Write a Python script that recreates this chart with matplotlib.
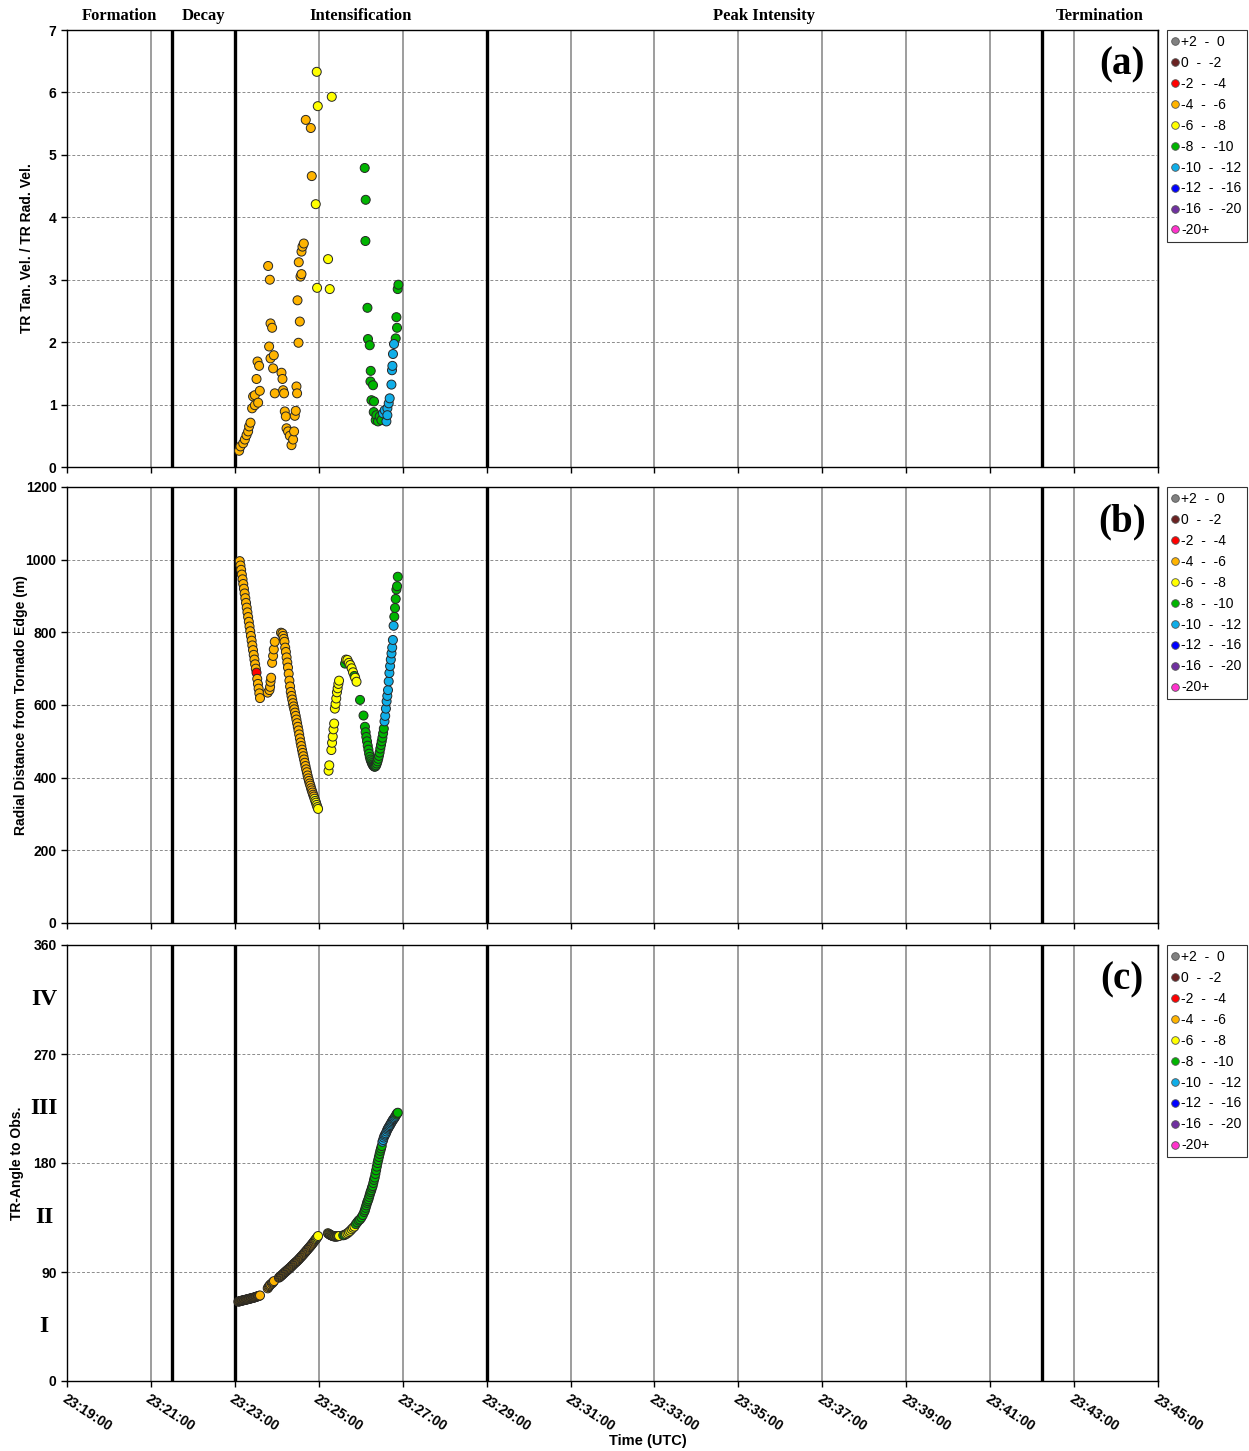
import numpy as np
import matplotlib
matplotlib.use("Agg")
import matplotlib.pyplot as plt
from matplotlib.lines import Line2D
from matplotlib.ticker import FuncFormatter, FixedLocator, MultipleLocator

plt.rcParams['font.family'] = ['Liberation Sans', 'DejaVu Sans']

# colour classes (legend)
class_labels = ['+2  -  0', '0  -  -2', '-2  -  -4', '-4  -  -6', '-6  -  -8',
                '-8  -  -10', '-10  -  -12', '-12  -  -16', '-16  -  -20', '-20+']
class_colors = ['#808080', '#6b2222', '#ff0000', '#ffb400', '#ffff00',
                '#00b400', '#10aee8', '#0000ff', '#7030a0', '#ff33cc']
code = {'O': 3, 'Y': 4, 'G': 5, 'B': 6, 'R': 2}

# phase boundaries (minutes after 23:00) and labels
phase_bounds = [19.0, 21.5, 23.0, 29.0, 42.23, 45.0]
phase_names = ['Formation', 'Decay', 'Intensification', 'Peak Intensity', 'Termination']
time_ticks = list(range(19, 46, 2))

# ---- panel (a): TR tan. vel / TR rad. vel  (t = seconds after 23:23:00)
a_t = [6.1, 8.1, 11.9, 14.3, 16.7, 19, 20.4, 22.4, 24.7, 26.1, 28.6, 28.6, 31, 32.4, 33.3,
       34.7, 35.7, 47.6, 49, 50, 51, 51, 53.3, 54.7, 55.7, 57.1, 66.7, 68.1, 69, 70.4,
       71.4, 72.9, 73.9, 76.1, 78.6, 81, 83.3, 84.7, 85.7, 87.1, 88.1, 89, 89.6, 91,
       91.4, 92.9, 93.9, 95.3, 95.3, 96.7, 98.6, 101.4, 108.6, 110,
       115.7, 117.1, 117.6, 118.6, 133.3, 135.7, 138.6,
       185.7, 186.7, 187.1, 189.6, 190.4, 192.9, 193.9, 194.3, 195.3, 197.6, 198.6, 199,
       201.4, 202.4, 204.7, 207.1, 209.6, 230, 231, 231.9, 232.9, 233.9,
       211.9, 214.3, 216.7, 218.1, 218.1, 220, 221.4, 223.9, 224.7, 225.3, 226.1, 227.6]
a_v = [0.26, 0.33, 0.38, 0.44, 0.51, 0.57, 0.65, 0.71, 0.94, 1.13, 1.15, 0.99, 1.41, 1.69, 1.03,
       1.62, 1.22, 3.22, 1.93, 3.0, 2.30, 1.74, 2.23, 1.58, 1.79, 1.18, 1.51, 1.41, 1.23, 1.18,
       0.89, 0.81, 0.62, 0.57, 0.50, 0.35, 0.44, 0.57, 0.82, 0.90, 1.29, 1.18, 2.67, 1.99,
       3.28, 2.33, 3.05, 3.45, 3.09, 3.53, 3.58, 5.56, 5.43, 4.66,
       4.21, 6.33, 2.87, 5.78, 3.33, 2.85, 5.93,
       4.79, 3.62, 4.28, 2.55, 2.05, 1.95, 1.37, 1.54, 1.07, 1.31, 0.88, 1.05,
       0.75, 0.83, 0.73, 0.81, 0.75, 2.06, 2.40, 2.23, 2.85, 2.92,
       0.86, 0.91, 0.73, 0.94, 0.83, 1.02, 1.10, 1.32, 1.55, 1.62, 1.81, 1.97]
a_c = 'O' * 54 + 'Y' * 7 + 'G' * 22 + 'B' * 12

# ---- panel (b): radial distance from tornado edge (m)
b_t = list(range(7, 37)) + \
      [47, 49.5, 50.4, 51, 51.9, 53.3, 54.7, 55.7, 57.1] + \
      [66, 68] + list(range(69, 120)) + \
      [134, 135, 138, 139, 140, 141, 142, 143, 144, 145, 146, 147, 148, 149,
       157.6, 159, 161, 163, 165, 167, 169, 171, 172, 174,
       179, 184, 186, 187, 188, 189, 190, 191, 192, 193, 194, 195, 196, 197, 198, 199, 200,
       201, 202, 203, 204, 205, 206, 207, 208, 209, 210, 211, 212, 213,
       214, 215, 216, 217, 218, 219, 220, 221, 222, 223, 224, 225, 226, 227,
       228, 229, 230, 231, 232, 233]
b_v = [996, 984, 972, 959, 946, 933, 920, 907, 894, 881, 868, 855, 842, 829, 816,
       803, 790, 777, 764, 751, 738, 725, 712, 700, 689, 672, 658, 645, 632, 619,
       634, 641, 650, 664, 675, 716, 735, 753, 774,
       799, 797, 790, 782, 774, 758, 746, 731, 717, 703, 686, 667, 651, 636, 625, 615, 605,
       596, 588, 579, 570, 560, 550, 540, 530, 519, 508, 497, 487, 477, 468, 459, 450, 441,
       432, 423, 415, 406, 398, 391, 384, 378, 371, 365, 359, 353, 348, 342, 336, 331, 325,
       319, 314,
       419, 434, 476, 496, 513, 533, 549, 590, 603, 618, 635, 646, 658, 667,
       714, 725, 724, 716, 710, 701, 690, 680, 675, 664,
       614, 571, 540, 525, 512, 500, 488, 477, 466, 457, 450, 445, 440, 436, 433, 431, 430,
       431, 434, 439, 445, 452, 460, 469, 480, 490, 500, 510, 522, 535,
       555, 570, 590, 610, 625, 641, 665, 688, 707, 725, 742, 758, 779, 818,
       843, 867, 892, 918, 927, 953]
b_c = ('O' * 24 + 'R' + 'O' * 5 + 'O' * 9 + 'O' * 47 + 'Y' * 6 +
       'Y' * 14 + 'G' + 'Y' * 6 + 'G' + 'Y' * 2 +
       'G' * 30 + 'B' * 14 + 'G' * 6)

# ---- panel (c): TR-angle to observer (deg)
c_t = list(range(5, 37)) + \
      [47, 48, 49, 50, 51, 53, 54, 55, 56] + \
      list(range(63, 120)) + \
      list(range(133, 150)) + \
      [155, 157, 159, 161, 163, 165, 167, 169,
       171, 173, 175, 177, 179, 181, 183, 185, 186, 187, 188, 189, 190, 191, 192, 193, 194,
       195, 196, 197, 198, 199, 200, 201, 202, 203, 204, 205, 206, 207, 208, 209, 210,
       211, 212, 213, 214, 215, 216, 217, 218, 219, 220, 221, 222, 223, 224, 225, 226, 227,
       228, 229, 230, 231, 232, 233]
c_v = [65.5, 65.7, 65.9, 66.0, 66.2, 66.3, 66.5, 66.6, 66.8, 66.9, 67.0, 67.2, 67.3, 67.5,
       67.6, 67.8, 67.9, 68.1, 68.2, 68.4, 68.5, 68.7, 68.8, 69.0, 69.2, 69.4, 69.6, 69.8,
       70.0, 70.2, 70.4, 70.6,
       76.5, 77.5, 78.3, 79.0, 79.8, 80.5, 81.2, 81.8, 82.5,
       85.3, 85.8, 86.3, 86.8, 87.3, 87.8, 88.4, 88.9, 89.5, 90.0, 90.5, 91.0, 91.5, 92.0,
       92.5, 93.0, 93.5, 94.1, 94.7, 95.2, 95.8, 96.4, 97.0, 97.5, 98.0, 98.5, 99.0, 99.6,
       100.2, 100.8, 101.5, 102.1, 102.7, 103.3, 104.0, 104.6, 105.3, 106.0, 106.6, 107.3,
       108.0, 108.6, 109.3, 110.0, 110.6, 111.3, 112.0, 112.7, 113.5, 114.2, 115.0, 115.7,
       116.5, 117.2, 118.0, 118.8, 119.7,
       122, 121.6, 121.2, 120.8, 120.5, 120.2, 120, 119.7, 119.5, 119.4, 119.3, 119.3, 119.3,
       119.4, 119.5, 119.6, 119.7,
       120.3, 120.6, 121.3, 122, 123, 124, 125.3, 126.5,
       127.5, 129.5, 131, 132.5, 133.4, 135, 137, 139.5, 141, 143,
       145, 147, 148.5, 150, 152, 154, 156, 157.5, 159.5, 161, 163.5, 166, 168, 171, 174,
       177, 180, 182.5, 185, 187.5, 190, 192, 194,
       197.5, 199, 201, 202.5, 203.5, 204.5, 206, 207.5, 208.5, 209.5, 210.5, 211.4, 212.5,
       213.5, 214.5, 215.5, 216.3, 217, 218, 219, 220, 221, 221.5]
c_c = ('O' * 32 + 'O' * 9 + 'O' * 53 + 'Y' * 4 +
       'Y' * 17 + 'G' * 2 + 'Y' * 7 + 'G' * 32 + 'B' * 20 + 'G' * 3)

fig = plt.figure(figsize=(12.49, 14.51), dpi=100)
L, W = 67 / 1249, 1091 / 1249
ax_a = fig.add_axes([L, 1 - 467 / 1451, W, 437 / 1451])
ax_b = fig.add_axes([L, 1 - 923 / 1451, W, 436 / 1451])
ax_c = fig.add_axes([L, 1 - 1381 / 1451, W, 436 / 1451])

panels = [(ax_a, a_t, a_v, a_c, 7, 1, '(a)', 'TR Tan. Vel. / TR Rad. Vel.', -0.030),
          (ax_b, b_t, b_v, b_c, 1200, 200, '(b)', 'Radial Distance from Tornado Edge (m)', -0.036),
          (ax_c, c_t, c_v, c_c, 360, 90, '(c)', 'TR-Angle to Obs.', -0.039)]

handles = [Line2D([], [], marker='o', ls='', ms=5.5, mfc=c, mec='#555555', mew=0.6)
           for c in class_colors]

for ax, t, v, cc, ymax, ystep, tag, ylab, lx in panels:
    x = 23 + np.array(t) / 60.0
    cols = [class_colors[code[k]] for k in cc]
    ax.set_xlim(19, 45)
    ax.set_ylim(0, ymax)
    ax.set_axisbelow(True)
    ax.xaxis.set_major_locator(FixedLocator(time_ticks))
    ax.yaxis.set_major_locator(MultipleLocator(ystep))
    ax.grid(axis='y', color='#8c8c8c', ls=(0, (3, 2)), lw=0.7)
    ax.grid(axis='x', color='#8c8c8c', ls='-', lw=1.2)
    for xb in phase_bounds[1:-1]:
        ax.axvline(xb, color='black', lw=2.4, zorder=1.5)
    ax.scatter(x, v, s=42, c=cols, edgecolors='#262626', linewidths=0.7, zorder=3)
    ax.tick_params(axis='both', direction='out', length=4, width=1)
    for lab in ax.get_yticklabels():
        lab.set_fontweight('bold')
        lab.set_fontsize(10)
    ax.set_ylabel(ylab, fontsize=10, fontweight='bold')
    ax.yaxis.set_label_coords(lx, 0.5)
    ax.text(0.967, 0.92, tag, transform=ax.transAxes, ha='center', va='center',
            fontsize=28, fontweight='bold', family='Liberation Serif')
    leg = ax.legend(handles, class_labels, loc='upper left', bbox_to_anchor=(1.008, 1.0),
                    borderaxespad=0, fontsize=10, frameon=True, fancybox=False,
                    edgecolor='black', handlelength=0.5, handletextpad=0.2,
                    labelspacing=0.5, borderpad=0.35)
    leg.get_frame().set_linewidth(0.8)
    for sp in ax.spines.values():
        sp.set_linewidth(1)
        sp.set_zorder(2.5)
    if ax is not ax_c:
        ax.tick_params(axis='x', labelbottom=False)

ax_c.xaxis.set_major_formatter(FuncFormatter(lambda m, p: '23:%02d:00' % int(round(m))))
for lab in ax_c.get_xticklabels():
    lab.set_rotation(-33)
    lab.set_rotation_mode('anchor')
    lab.set_ha('left')
    lab.set_va('top')
    lab.set_fontweight('bold')
    lab.set_fontsize(10)
fig.text(648 / 1249, 1 - 1441 / 1451, 'Time (UTC)', ha='center', va='center',
         fontsize=10.5, fontweight='bold')

for i, name in enumerate(phase_names):
    xc = (phase_bounds[i] + phase_bounds[i + 1]) / 2
    ax_a.text(xc, 1.032, name, transform=ax_a.get_xaxis_transform(), ha='center', va='center',
              fontsize=12, fontweight='bold', family='Liberation Serif')

for val, rn in zip([45, 135, 225, 315], ['I', 'II', 'III', 'IV']):
    ax_c.text(-0.021, val, rn, transform=ax_c.get_yaxis_transform(), ha='center', va='center',
              fontsize=17, fontweight='bold', family='Liberation Serif')

fig.savefig('out.png', dpi=100)
